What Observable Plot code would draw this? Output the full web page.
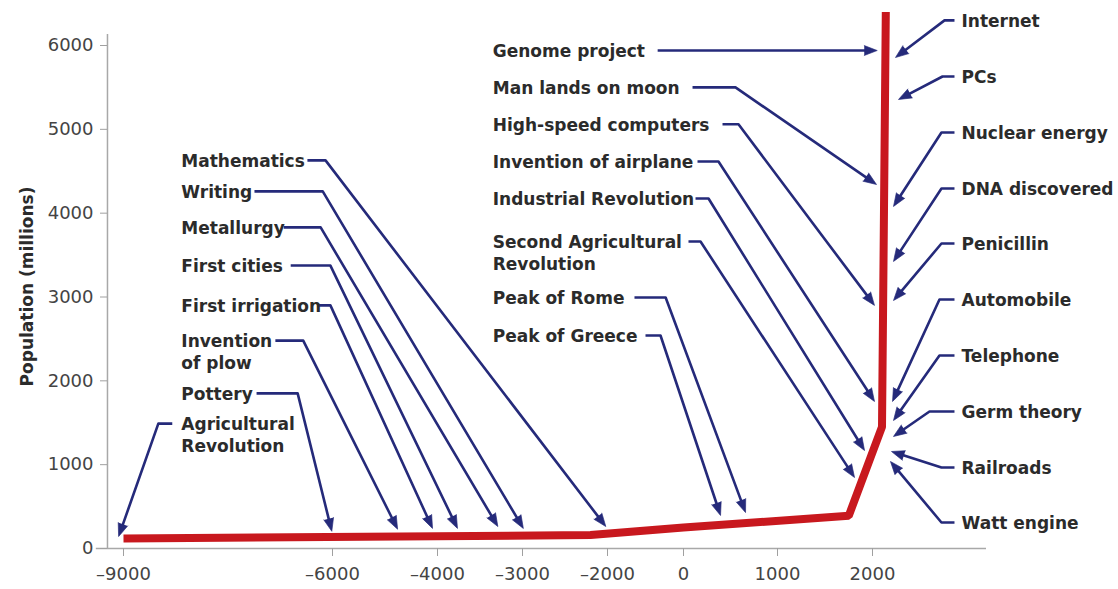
<!DOCTYPE html>
<html>
<head>
<meta charset="utf-8">
<script src="https://cdn.jsdelivr.net/npm/d3@7"></script>
<script src="https://cdn.jsdelivr.net/npm/@observablehq/plot@0.6"></script>
<style>
  html, body { margin: 0; padding: 0; background: #ffffff; }
  #chart svg { display: block; }
</style>
</head>
<body>
<div id="chart"></div>
<script>
// ---- population curve (schematic) ----
const years = [-9000, -2200, 0, 1750, 2100, 2140];
const population = [120, 160, 250, 390, 1450, 6400];

// ---- axes ----
const xTicks = [-9000, -6000, -4000, -3000, -2000, 0, 1000, 2000];
const yTicks = [0, 1000, 2000, 3000, 4000, 5000, 6000];
// piecewise (schematic) time axis
const xDomain = [-9000, -6000, -4000, -3000, -2000, 0, 1000, 2000, 3200];
const xRange = [123, 332, 437, 522, 607, 683, 777, 872, 986];
const yDomain = [0, 6000];
const yRange = [548, 45];

// ---- events ----
const eventNames = [
  "Mathematics", "Writing", "Metallurgy", "First cities", "First irrigation",
  "Invention\nof plow", "Pottery", "Agricultural\nRevolution",
  "Genome project", "Man lands on moon", "High-speed computers", "Invention of airplane",
  "Industrial Revolution", "Second Agricultural\nRevolution", "Peak of Rome", "Peak of Greece",
  "Internet", "PCs", "Nuclear energy", "DNA discovered", "Penicillin",
  "Automobile", "Telephone", "Germ theory", "Railroads", "Watt engine"
];
// where each arrow points (year, millions)
const tipYear = [-2020, -2990, -3290, -3765, -4095, -4760, -6010, -9070,
  2050, 2042, 2021, 2021, 1916, 1811, 660, 394,
  2242, 2274, 2221, 2221, 2221, 2211, 2221, 2221, 2200, 2189];
const tipPop = [262, 239, 262, 240, 240, 230, 205, 143,
  5940, 4342, 2900, 1754, 1169, 847, 429, 394,
  5857, 5356, 4080, 3424, 2958, 1754, 1527, 1336, 1157, 1038];
// label placement (year, millions)
const labelYear = [-8170, -8170, -8170, -8170, -8170, -8170, -8170, -8170,
  -3350, -3350, -3350, -3350, -3350, -3350, -3350, -3350,
  2937, 2937, 2937, 2937, 2937, 2937, 2937, 2937, 2937, 2937];
const labelPop = [4630, 4260, 3830, 3375, 2900, 2480, 1850, 1490,
  5940, 5500, 5060, 4617, 4175, 3662, 2994, 2541,
  6300, 5630, 4962, 4294, 3638, 2970, 2302, 1634, 966, 310];
// leader line: start and bend (year)
const leadStartYear = [-6360, -7120, -6700, -6600, -6200, -6820, -7090, -8300,
  -680, 96, 415, 149, 128, 53, -1290, -1000,
  2863, 2863, 2863, 2863, 2863, 2863, 2863, 2863, 2863, 2863];
const leadBendYear = [-6100, -6140, -6170, -6030, -6030, -6420, -6500, -8500,
  -680, 553, 585, 372, 266, 181, -470, -605,
  2758, 2737, 2726, 2726, 2726, 2705, 2705, 2600, 2726, 2726];

// ---- styling ----
const NAVY = "#252a7a";
const RED = "#c8181e";
const FONT = "'DejaVu Sans', 'Liberation Sans', sans-serif";

const curve = years.map((y, i) => ({year: y, pop: population[i]}));
const idx = eventNames.map((_, i) => i);

// same mapping as the Plot scales, used to orient arrowheads
const xS = d3.scaleLinear(xDomain, xRange);
const yS = d3.scaleLinear(yDomain, yRange);
const HEAD = 13;
const heads = idx.map(i => {
  const bx = xS(leadBendYear[i]), by = yS(labelPop[i]);
  const tx = xS(tipYear[i]), ty = yS(tipPop[i]);
  const dx = tx - bx, dy = ty - by, len = Math.hypot(dx, dy) || 1;
  const ux = dx / len, uy = dy / len;
  return {
    angle: Math.atan2(dx, -dy) * 180 / Math.PI,
    endYear: xS.invert(tx - ux * (HEAD - 3)),
    endPop: yS.invert(ty - uy * (HEAD - 3))
  };
});

const leaders = [];
idx.forEach(i => {
  leaders.push({id: i, x: leadStartYear[i], y: labelPop[i]});
  leaders.push({id: i, x: leadBendYear[i], y: labelPop[i]});
  leaders.push({id: i, x: heads[i].endYear, y: heads[i].endPop});
});

const fmt = d => d < 0 ? "\u2013" + Math.abs(d) : String(d);

const chart = Plot.plot({
  width: 1118,
  height: 589,
  marginLeft: 107,
  marginBottom: 41,
  marginTop: 0,
  marginRight: 0,
  style: {fontFamily: FONT, background: "#ffffff", overflow: "visible"},
  x: {type: "linear", domain: xDomain, range: xRange},
  y: {type: "linear", domain: yDomain, range: yRange},
  marks: [
    Plot.ruleY([0], {x1: -9390, x2: 3200, stroke: "#a8a8a8", strokeWidth: 1.5}),
    Plot.ruleX([-9230], {y1: 0, y2: 6130, stroke: "#a8a8a8", strokeWidth: 1.5}),
    Plot.axisX({ticks: xTicks, tickFormat: fmt, tickSize: 8, tickPadding: 11,
      fontSize: 18, stroke: "#a0a0a0", color: "#444", label: null, fontFamily: FONT}),
    Plot.axisY({ticks: yTicks, tickFormat: d => String(d), tickSize: 7, tickPadding: 7,
      fontSize: 18, stroke: "#a0a0a0", color: "#444", label: null, fontFamily: FONT}),
    Plot.text(["Population (millions)"], {frameAnchor: "left", textAnchor: "middle",
      dx: -80, dy: 12, rotate: -90,
      fontSize: 17, fontWeight: "bold", fill: "#2b2b2b", fontFamily: FONT}),
    Plot.line(curve, {x: "year", y: "pop", stroke: RED, strokeWidth: 8,
      strokeLinejoin: "miter", strokeLinecap: "butt"}),
    Plot.line(leaders, {x: "x", y: "y", z: "id", stroke: NAVY, strokeWidth: 2.6,
      strokeLinejoin: "round", strokeLinecap: "butt"}),
    Plot.vector(idx, {x: i => tipYear[i], y: i => tipPop[i], rotate: i => heads[i].angle,
      length: HEAD, r: 5, shape: "spike", anchor: "end", fill: NAVY, stroke: NAVY, strokeWidth: 0.6}),
    Plot.text(idx, {x: i => labelYear[i], y: i => labelPop[i], text: i => eventNames[i],
      textAnchor: "start", lineAnchor: "top", dy: -9, lineHeight: 1.3,
      fontSize: 17, fontWeight: "bold", fill: "#2b2b2b", fontFamily: FONT})
  ]
});

document.getElementById("chart").appendChild(chart);
</script>
</body>
</html>
